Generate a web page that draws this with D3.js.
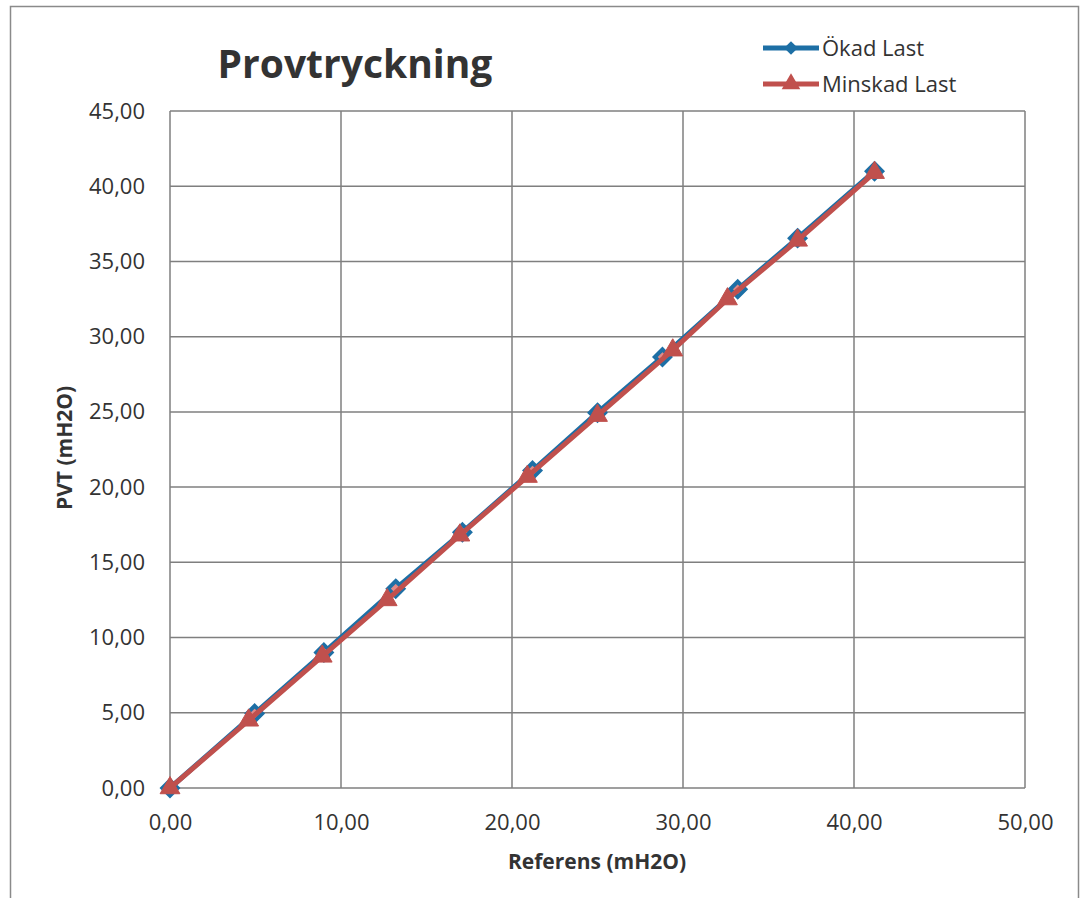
<!DOCTYPE html>
<html>
<head>
<meta charset="utf-8">
<script src="https://cdn.jsdelivr.net/npm/d3@7"></script>
<style>
  body { margin: 0; background: #fff; }
  svg { display: block; font-family: "Open Sans", "Noto Sans", sans-serif; }
</style>
</head>
<body>
<div class="container"></div>
<script>
// chart data
const okadX = [0, 4.95, 9.0, 13.2, 17.1, 21.2, 25.0, 28.8, 33.2, 36.7, 41.2];
const okadY = [0, 4.95, 9.0, 13.25, 17.0, 21.1, 24.95, 28.65, 33.15, 36.55, 41.0];
const minskadX = [0, 4.6, 8.9, 12.7, 16.95, 20.9, 25.0, 29.4, 32.6, 36.7, 41.2];
const minskadY = [0, 4.5, 8.75, 12.5, 16.8, 20.7, 24.75, 29.1, 32.5, 36.4, 40.9];
const xTicks = [0, 10, 20, 30, 40, 50];
const yTicks = [0, 5, 10, 15, 20, 25, 30, 35, 40, 45];
const seriesNames = ["Ökad Last", "Minskad Last"];

// set the size and margins
const width = 1084;
const height = 898;
const margin = { top: 111, bottom: 110, left: 170, right: 59 };

const svg = d3.select(".container")
  .append("svg")
  .attr("width", width)
  .attr("height", height);

// outer chart border
svg.append("rect")
  .attr("x", 10.5).attr("y", 6.5)
  .attr("width", 1068).attr("height", 900)
  .attr("fill", "none")
  .attr("stroke", "#8a8a8a")
  .attr("stroke-width", 1.5);

const xScale = d3.scaleLinear()
  .domain([0, 50])
  .range([margin.left, width - margin.right]);

const yScale = d3.scaleLinear()
  .domain([0, 45])
  .range([height - margin.bottom, margin.top]);

const fmt = d => d3.format(".2f")(d).replace(".", ",");

// grid lines
svg.append("g")
  .selectAll("line")
  .data(xTicks)
  .join("line")
  .attr("x1", d => xScale(d)).attr("x2", d => xScale(d))
  .attr("y1", yScale(0)).attr("y2", yScale(45))
  .attr("stroke", "#7f7f7f")
  .attr("stroke-width", 1.5);

svg.append("g")
  .selectAll("line")
  .data(yTicks)
  .join("line")
  .attr("x1", xScale(0)).attr("x2", xScale(50))
  .attr("y1", d => yScale(d)).attr("y2", d => yScale(d))
  .attr("stroke", "#7f7f7f")
  .attr("stroke-width", 1.5);

// axes, just the labels
const xAxis = svg.append("g")
  .attr("transform", `translate(0, ${yScale(0)})`)
  .call(d3.axisBottom(xScale).tickValues(xTicks).tickFormat(fmt).tickSize(0).tickPadding(26));
xAxis.select(".domain").remove();
xAxis.selectAll("text").attr("font-size", "22px").attr("fill", "#333").attr("font-family", "Open Sans");

const yAxis = svg.append("g")
  .attr("transform", `translate(${xScale(0)}, 0)`)
  .call(d3.axisLeft(yScale).tickValues(yTicks).tickFormat(fmt).tickSize(0).tickPadding(25));
yAxis.select(".domain").remove();
yAxis.selectAll("text").attr("font-size", "22px").attr("fill", "#333").attr("font-family", "Open Sans");

// axis titles
svg.append("text")
  .attr("x", 597).attr("y", 869)
  .attr("text-anchor", "middle")
  .attr("font-size", "21px").attr("font-weight", "bold").attr("fill", "#333")
  .text("Referens (mH2O)");

svg.append("text")
  .attr("transform", `translate(72, 448) rotate(-90)`)
  .attr("text-anchor", "middle")
  .attr("font-size", "21px").attr("font-weight", "bold").attr("fill", "#333")
  .text("PVT (mH2O)");

// chart title
svg.append("text")
  .attr("x", 355).attr("y", 78)
  .attr("text-anchor", "middle")
  .attr("font-size", "39px").attr("font-weight", "bold").attr("fill", "#333")
  .text("Provtryckning");

const line = d3.line()
  .x(d => xScale(d[0]))
  .y(d => yScale(d[1]));

const okad = okadX.map((x, i) => [x, okadY[i]]);
const minskad = minskadX.map((x, i) => [x, minskadY[i]]);

const blue = "#1d6fa5";
const red = "#c0504d";

// blue series
svg.append("path")
  .datum(okad)
  .attr("d", line)
  .attr("fill", "none")
  .attr("stroke", blue)
  .attr("stroke-width", 5);

svg.append("g")
  .selectAll("path")
  .data(okad)
  .join("path")
  .attr("transform", d => `translate(${xScale(d[0])}, ${yScale(d[1])})`)
  .attr("d", d3.symbol(d3.symbolDiamond2, 150))
  .attr("fill", "#e08a88")
  .attr("stroke", blue)
  .attr("stroke-width", 4);

// red series
svg.append("path")
  .datum(minskad)
  .attr("d", line)
  .attr("fill", "none")
  .attr("stroke", red)
  .attr("stroke-width", 5);

svg.append("g")
  .selectAll("path")
  .data(minskad)
  .join("path")
  .attr("transform", d => `translate(${xScale(d[0])}, ${yScale(d[1])})`)
  .attr("d", d3.symbol(d3.symbolTriangle, 170))
  .attr("fill", red)
  .attr("stroke", red)
  .attr("stroke-width", 1);

// legend
const legendColors = [blue, red];
const legendSymbols = [d3.symbolDiamond2, d3.symbolTriangle];
const legend = svg.append("g");
seriesNames.forEach((name, i) => {
  const y = 48 + i * 36;
  legend.append("line")
    .attr("x1", 763).attr("x2", 819)
    .attr("y1", y).attr("y2", y)
    .attr("stroke", legendColors[i])
    .attr("stroke-width", 5);
  legend.append("path")
    .attr("transform", `translate(791, ${y})`)
    .attr("d", d3.symbol(legendSymbols[i], i === 0 ? 120 : 150))
    .attr("fill", legendColors[i]);
  legend.append("text")
    .attr("x", 822).attr("y", y + 8)
    .attr("font-size", "22px").attr("fill", "#333")
    .text(name);
});
</script>
</body>
</html>
